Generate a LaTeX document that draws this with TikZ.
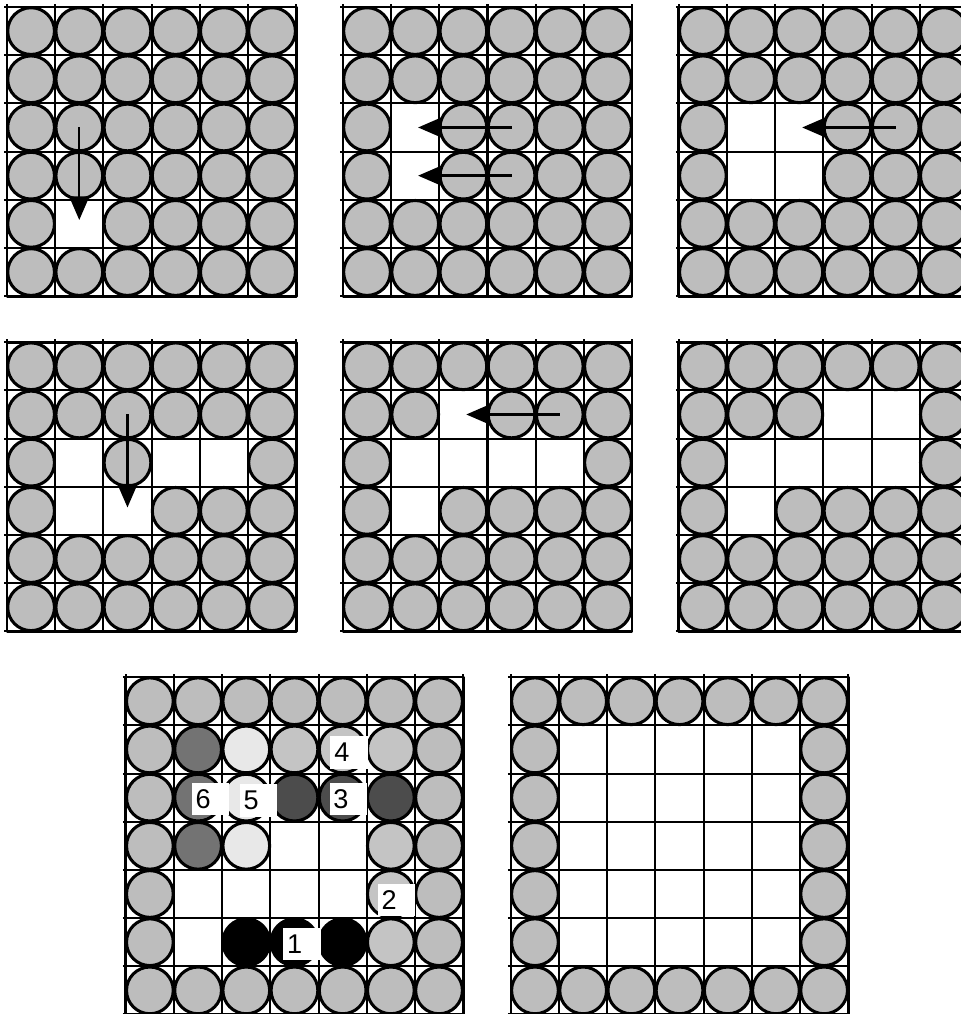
\documentclass[tikz,border=0pt]{standalone}
\usepackage{fontspec}
\usepackage{xstring}
\usetikzlibrary{arrows.meta}
\newfontfamily\labelfont{Liberation Sans}
\definecolor{BoardInk}{gray}{0.0}
\definecolor{DiscFill}{gray}{0.74}
\definecolor{DiscMid}{gray}{0.77}
\definecolor{DiscPale}{gray}{0.91}
\definecolor{DiscDark}{gray}{0.45}
\definecolor{DiscDeep}{gray}{0.30}
\tikzset{
    board/diagram/.style={
        line join=round,
        >=Triangle
    },
    board/grid/.style={draw=BoardInk, line width=1.2pt},
    board/frame/.style={draw=BoardInk, line width=1.6pt},
    board/disc/.style={draw=BoardInk, fill=DiscFill, line width=1.8pt},
    board/move/.style={
        draw=BoardInk, line width=1.4pt,
        -{Triangle[length=4.9mm, width=4.1mm]}
    },
    board/label/.style={
        fill=white, anchor=north west, inner ysep=0pt, inner xsep=0.08cm,
        text width=0.62cm, minimum height=0.67cm, align=left,
        font=\labelfont\fontsize{16}{17}\selectfont
    }
}
% n x n board, discs everywhere except the cells listed as (c,r)
\newcommand{\discboard}[2]{%
    \draw[board/grid] (-0.06,0.06) grid (#1,-#1);
    \pgfmathtruncatemacro\lastcell{#1-1}
    \foreach \c in {0,...,\lastcell}{
        \foreach \r in {0,...,\lastcell}{
            \IfSubStr{#2}{(\c,\r)}{}{%
                \draw[board/disc] (\c+0.5,-\r-0.5) circle[radius=0.485];}
        }
    }
}

\begin{document}
\begin{tikzpicture}[board/diagram]
    \useasboundingbox (0,0) rectangle (19.92,-21.04);
    % first row
    \begin{scope}[shift={(0.145,-0.145)}]
        \discboard{6}{(1,4)}
        \draw[board/frame] (0,0) rectangle (6,-6);
        \coordinate (m1a) at (1.5,-2.5);
        \coordinate (m1b) at (1.5,-4.42);
        \draw[board/move] (m1a) -- (m1b);
    \end{scope}
    \begin{scope}[shift={(7.115,-0.145)}]
        \discboard{6}{(1,2)(1,3)}
        \draw[board/frame] (0,0) rectangle (6,-6);
        \coordinate (m2a) at (3.5,-2.5);
        \coordinate (m2b) at (1.56,-2.5);
        \coordinate (m3a) at (3.5,-3.5);
        \coordinate (m3b) at (1.56,-3.5);
        \draw[board/move] (m2a) -- (m2b);
        \draw[board/move] (m3a) -- (m3b);
    \end{scope}
    \begin{scope}[shift={(14.085,-0.145)}]
        \discboard{6}{(1,2)(2,2)(1,3)(2,3)}
        \draw[board/frame] (0,0) rectangle (6,-6);
        \coordinate (m4a) at (4.5,-2.5);
        \coordinate (m4b) at (2.56,-2.5);
        \draw[board/move] (m4a) -- (m4b);
    \end{scope}
    % second row
    \begin{scope}[shift={(0.145,-7.10)}]
        \discboard{6}{(1,2)(3,2)(4,2)(1,3)(2,3)}
        \draw[board/frame] (0,0) rectangle (6,-6);
        \coordinate (m5a) at (2.5,-1.5);
        \coordinate (m5b) at (2.5,-3.43);
        \draw[board/move] (m5a) -- (m5b);
    \end{scope}
    \begin{scope}[shift={(7.115,-7.10)}]
        \discboard{6}{(2,1)(1,2)(2,2)(3,2)(4,2)(1,3)}
        \draw[board/frame] (0,0) rectangle (6,-6);
        \coordinate (m6a) at (4.5,-1.5);
        \coordinate (m6b) at (2.56,-1.5);
        \draw[board/move] (m6a) -- (m6b);
    \end{scope}
    \begin{scope}[shift={(14.085,-7.10)}]
        \discboard{6}{(3,1)(4,1)(1,2)(2,2)(3,2)(4,2)(1,3)}
        \draw[board/frame] (0,0) rectangle (6,-6);
    \end{scope}
    % third row
    \begin{scope}[shift={(2.61,-14.05)}]
        \discboard{7}{(1,1)(2,1)(3,1)(4,1)(5,1)(1,2)(2,2)(3,2)(4,2)(5,2)(1,3)(2,3)(3,3)(4,3)(5,3)(1,4)(2,4)(3,4)(4,4)(5,4)(1,5)(2,5)(3,5)(4,5)(5,5)}
        \foreach \r in {1,2,3}
            \draw[board/disc, fill=DiscDark] (1.5,-\r-0.5) circle[radius=0.485];
        \foreach \r in {1,2,3}
            \draw[board/disc, fill=DiscPale] (2.5,-\r-0.5) circle[radius=0.485];
        \foreach \c/\r in {3/1,4/1,5/1,5/3,5/4,5/5}
            \draw[board/disc, fill=DiscMid] (\c+0.5,-\r-0.5) circle[radius=0.485];
        \foreach \c in {3,4,5}
            \draw[board/disc, fill=DiscDeep] (\c+0.5,-2.5) circle[radius=0.485];
        \foreach \c in {2,3,4}
            \draw[board/disc, fill=black] (\c+0.5,-5.5) circle[radius=0.485];
        \draw[board/frame] (0,0) rectangle (7,-7);
        \node[board/label] (lbl1) at (3.26,-5.19) {1};
        \node[board/label] (lbl2) at (5.22,-4.28) {2};
        \node[board/label] (lbl3) at (4.22,-2.18) {3};
        \node[board/label] (lbl4) at (4.24,-1.22) {4};
        \node[board/label] (lbl5) at (2.36,-2.22) {5};
        \node[board/label] (lbl6) at (1.36,-2.18) {6};
    \end{scope}
    \begin{scope}[shift={(10.60,-14.05)}]
        \discboard{7}{(1,1)(2,1)(3,1)(4,1)(5,1)(1,2)(2,2)(3,2)(4,2)(5,2)(1,3)(2,3)(3,3)(4,3)(5,3)(1,4)(2,4)(3,4)(4,4)(5,4)(1,5)(2,5)(3,5)(4,5)(5,5)}
        \draw[board/frame] (0,0) rectangle (7,-7);
    \end{scope}
\end{tikzpicture}
\end{document}
